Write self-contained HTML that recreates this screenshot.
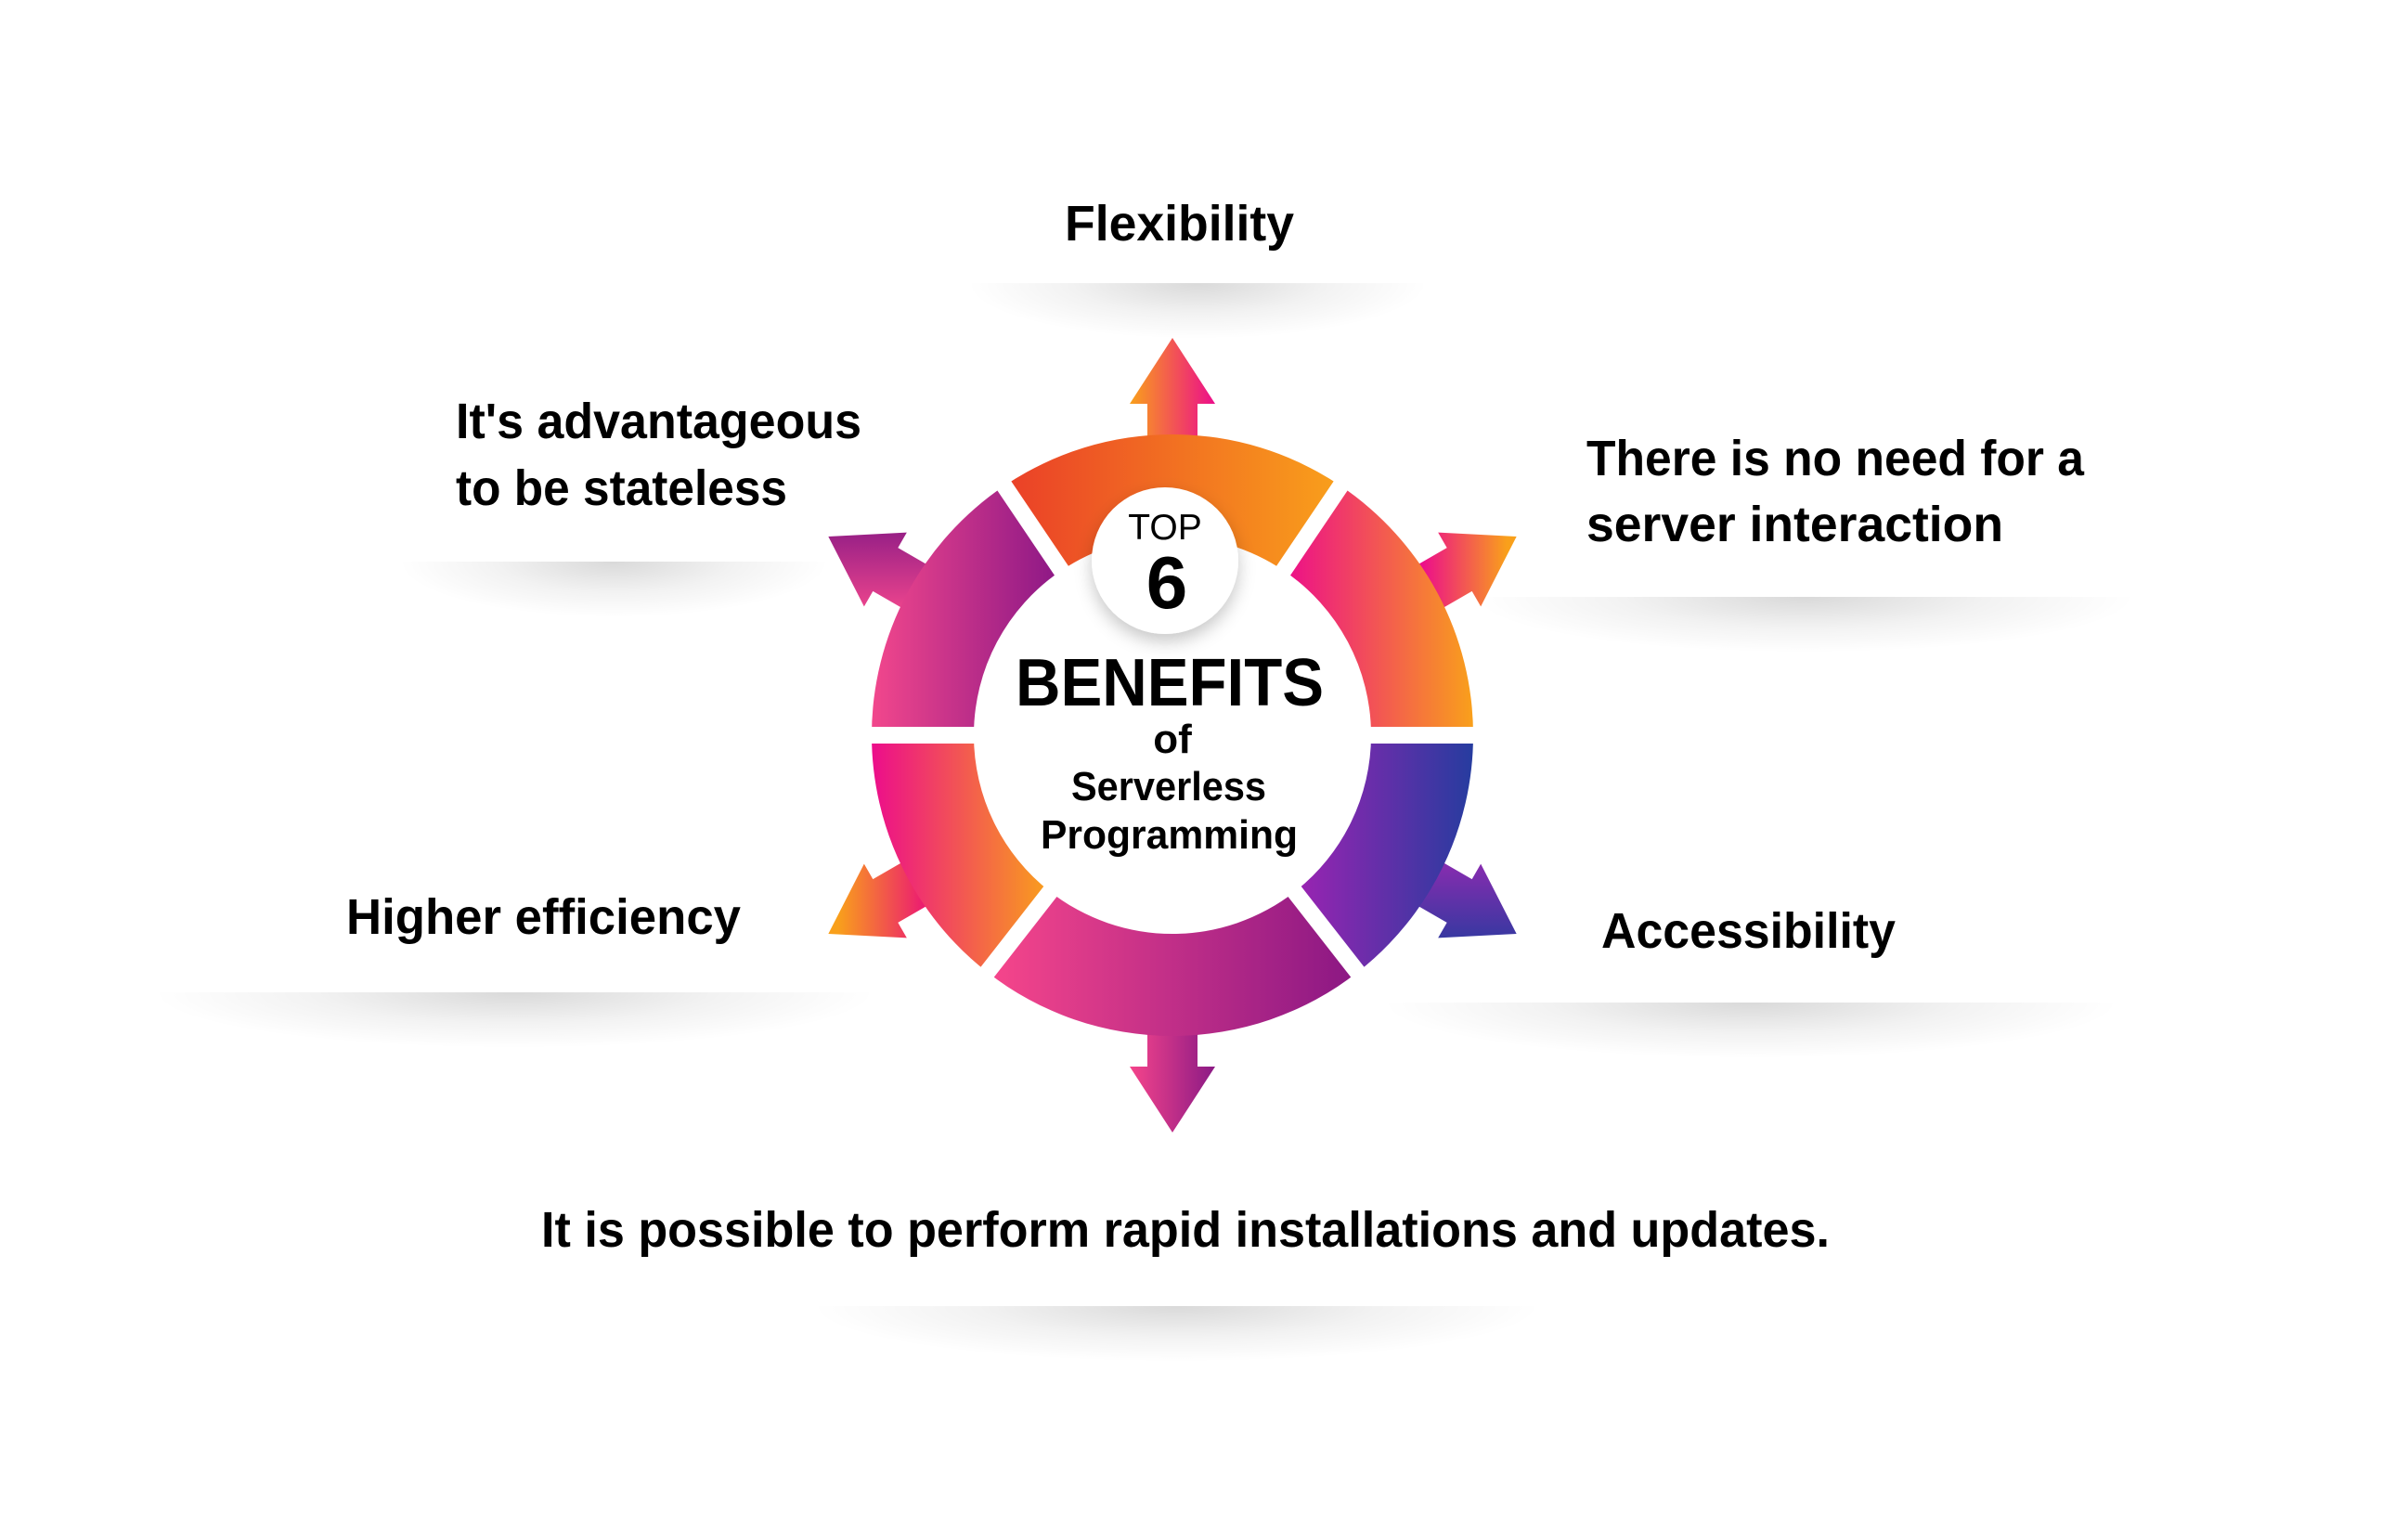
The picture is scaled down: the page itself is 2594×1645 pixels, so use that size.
<!DOCTYPE html>
<html><head><meta charset="utf-8"><style>
html,body{margin:0;padding:0;background:#fff}
body{width:2594px;height:1645px;position:relative;overflow:hidden}
.sh{position:absolute;height:60px;background:radial-gradient(ellipse 50% 100% at 50% 0%,rgba(0,0,0,.15),rgba(0,0,0,.05) 55%,rgba(0,0,0,0) 100%)}
svg{position:absolute;left:0;top:0}
text{font-family:"Liberation Sans",sans-serif;fill:#000}
</style></head><body>
<div class="sh" style="left:1042px;top:305px;width:496px"></div>
<div class="sh" style="left:430px;top:605px;width:463px"></div>
<div class="sh" style="left:1588px;top:643px;width:712px"></div>
<div class="sh" style="left:165px;top:1069px;width:778px"></div>
<div class="sh" style="left:1489px;top:1080px;width:794px"></div>
<div class="sh" style="left:875px;top:1407px;width:785px"></div>
<svg width="2594" height="1645" viewBox="0 0 2594 1645">
<defs>
<linearGradient id="s1" x1="0" x2="1"><stop offset="0" stop-color="#ea3f28"/><stop offset="1" stop-color="#f9a01b"/></linearGradient>
<linearGradient id="s2" x1="0" x2="1"><stop offset="0" stop-color="#ec0d8b"/><stop offset="1" stop-color="#f9a01b"/></linearGradient>
<linearGradient id="s3" x1="0" x2="1"><stop offset="0" stop-color="#9c23b2"/><stop offset="1" stop-color="#263c9f"/></linearGradient>
<linearGradient id="s4" x1="0" x2="1"><stop offset="0" stop-color="#f7468b"/><stop offset="1" stop-color="#8a1784"/></linearGradient>
<linearGradient id="s5" x1="0" x2="1"><stop offset="0" stop-color="#ec0d8b"/><stop offset="1" stop-color="#f9a01b"/></linearGradient>
<linearGradient id="s6" x1="0" x2="1"><stop offset="0" stop-color="#f2478c"/><stop offset="1" stop-color="#8b1786"/></linearGradient>
<linearGradient id="a0" gradientUnits="userSpaceOnUse" x1="-46" y1="-363" x2="46" y2="-363" gradientTransform="rotate(0 0 -363)"><stop offset="0" stop-color="#f9a01b"/><stop offset="1" stop-color="#ec0d8b"/></linearGradient>
<linearGradient id="a60" gradientUnits="userSpaceOnUse" x1="-46" y1="-363" x2="46" y2="-363" gradientTransform="rotate(-60 0 -363)"><stop offset="0" stop-color="#ec0d8b"/><stop offset="1" stop-color="#f9a01b"/></linearGradient>
<linearGradient id="a120" gradientUnits="userSpaceOnUse" x1="0" y1="-413" x2="0" y2="-313" gradientTransform="rotate(-120 0 -363)"><stop offset="0" stop-color="#8e2bb0"/><stop offset="1" stop-color="#2b3a9f"/></linearGradient>
<linearGradient id="a180" gradientUnits="userSpaceOnUse" x1="-46" y1="-363" x2="46" y2="-363" gradientTransform="rotate(-180 0 -363)"><stop offset="0" stop-color="#f5448b"/><stop offset="1" stop-color="#8b1a85"/></linearGradient>
<linearGradient id="a240" gradientUnits="userSpaceOnUse" x1="-46" y1="-363" x2="46" y2="-363" gradientTransform="rotate(-240 0 -363)"><stop offset="0" stop-color="#f9a01b"/><stop offset="1" stop-color="#ec1d70"/></linearGradient>
<linearGradient id="a300" gradientUnits="userSpaceOnUse" x1="0" y1="-413" x2="0" y2="-313" gradientTransform="rotate(-300 0 -363)"><stop offset="0" stop-color="#8b1a85"/><stop offset="1" stop-color="#f0468d"/></linearGradient>
<filter id="ds" x="-50%" y="-50%" width="200%" height="200%"><feDropShadow dx="0" dy="8" stdDeviation="9" flood-color="#000" flood-opacity=".22"/></filter>
<polygon id="arr" points="0,-428 46,-357 27,-357 27,-300 -27,-300 -27,-357 -46,-357"/>
</defs>
<g transform="translate(1263 792)">
<use href="#arr" fill="url(#a0)" transform="rotate(0)"/>
<use href="#arr" fill="url(#a60)" transform="rotate(60)"/>
<use href="#arr" fill="url(#a120)" transform="rotate(120)"/>
<use href="#arr" fill="url(#a180)" transform="rotate(180)"/>
<use href="#arr" fill="url(#a240)" transform="rotate(240)"/>
<use href="#arr" fill="url(#a300)" transform="rotate(300)"/>
</g>
<path fill="url(#s1)" d="M1081.8,523.4 A324,324 0 0 1 1444.2,523.4 L1382.7,614.6 A214,214 0 0 0 1143.3,614.6 Z"/>
<path fill="url(#s2)" d="M1444.2,523.4 A324,324 0 0 1 1587,792 L1477,792 A214,214 0 0 0 1382.7,614.6 Z"/>
<path fill="url(#s3)" d="M1587,792 A324,324 0 0 1 1462.5,1047.3 L1394.8,960.6 A214,214 0 0 0 1477,792 Z"/>
<path fill="url(#s4)" d="M1462.5,1047.3 A324,324 0 0 1 1063.5,1047.3 L1131.2,960.6 A214,214 0 0 0 1394.8,960.6 Z"/>
<path fill="url(#s5)" d="M1063.5,1047.3 A324,324 0 0 1 939,792 L1049,792 A214,214 0 0 0 1131.2,960.6 Z"/>
<path fill="url(#s6)" d="M939,792 A324,324 0 0 1 1081.8,523.4 L1143.3,614.6 A214,214 0 0 0 1049,792 Z"/>
<g transform="translate(1263 792)" fill="#fff">
<rect x="-9" y="-340" width="18" height="140" transform="rotate(-34)"/>
<rect x="-9" y="-340" width="18" height="140" transform="rotate(34)"/>
<rect x="-9" y="-340" width="18" height="140" transform="rotate(90)"/>
<rect x="-9" y="-340" width="18" height="140" transform="rotate(142)"/>
<rect x="-9" y="-340" width="18" height="140" transform="rotate(218)"/>
<rect x="-9" y="-340" width="18" height="140" transform="rotate(270)"/>
</g>
<circle cx="1255" cy="604" r="79" fill="#fff" filter="url(#ds)"/>
<text x="1255" y="581" font-size="39" text-anchor="middle">TOP</text>
<text x="1257" y="655" font-size="80" font-weight="bold" text-anchor="middle">6</text>
<text x="1094" y="760" font-size="72" font-weight="bold" textLength="332" lengthAdjust="spacingAndGlyphs">BENEFITS</text>
<text x="1263" y="811" font-size="44" font-weight="bold" text-anchor="middle">of</text>
<text x="1154" y="862" font-size="44" font-weight="bold" textLength="210" lengthAdjust="spacingAndGlyphs">Serverless</text>
<text x="1121" y="914" font-size="44" font-weight="bold" textLength="277" lengthAdjust="spacingAndGlyphs">Programming</text>
<g font-size="54" font-weight="bold">
<text x="1147" y="259" textLength="247" lengthAdjust="spacingAndGlyphs" font-size="54" font-weight="bold">Flexibility</text>
<text x="491" y="472" textLength="437" lengthAdjust="spacingAndGlyphs" font-size="54" font-weight="bold">It's advantageous</text>
<text x="491" y="544" textLength="357" lengthAdjust="spacingAndGlyphs" font-size="54" font-weight="bold">to be stateless</text>
<text x="1709" y="512" textLength="536" lengthAdjust="spacingAndGlyphs" font-size="54" font-weight="bold">There is no need for a</text>
<text x="1709" y="583" textLength="449" lengthAdjust="spacingAndGlyphs" font-size="54" font-weight="bold">server interaction</text>
<text x="373" y="1006" textLength="425" lengthAdjust="spacingAndGlyphs" font-size="54" font-weight="bold">Higher efficiency</text>
<text x="1725" y="1021" textLength="317" lengthAdjust="spacingAndGlyphs" font-size="54" font-weight="bold">Accessibility</text>
<text x="583" y="1343" textLength="1388" lengthAdjust="spacingAndGlyphs" font-size="54" font-weight="bold">It is possible to perform rapid installations and updates.</text>
</g>
</svg>
</body></html>
